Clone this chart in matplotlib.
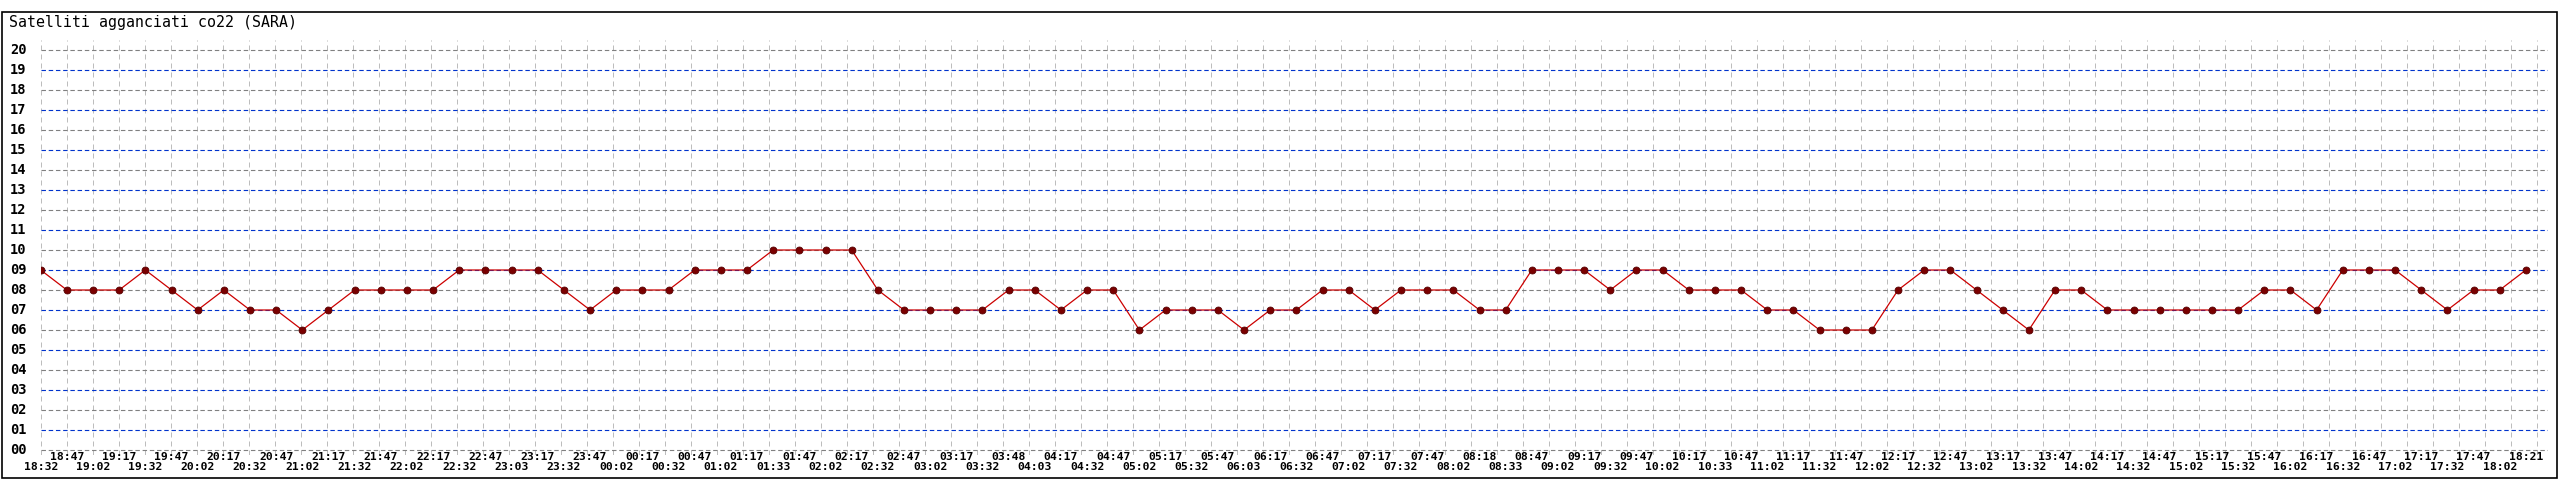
import numpy as np
import matplotlib
matplotlib.use("Agg")
import matplotlib.pyplot as plt
from matplotlib.transforms import blended_transform_factory
from matplotlib.patches import Rectangle

# dati
satelliti = [9, 8, 8, 8, 9, 8, 7, 8, 7, 7, 6, 7, 8, 8, 8, 8, 9, 9,
             9, 9, 8, 7, 8, 8, 8, 9, 9, 9, 10, 10, 10, 10, 8, 7, 7, 7, 7, 8,
             8, 7, 8, 8, 6, 7, 7, 7, 6, 7, 7, 8, 8, 7, 8, 8, 8, 7, 7,
             9, 9, 9, 8, 9, 9, 8, 8, 8, 7, 7, 6, 6, 6, 8, 9, 9, 8, 7, 6,
             8, 8, 7, 7, 7, 7, 7, 7, 8, 8, 7, 9, 9, 9, 8, 7, 8, 8, 9]

orari = ["18:32", "18:47", "19:02", "19:17", "19:32", "19:47", "20:02", "20:17",
         "20:32", "20:47", "21:02", "21:17", "21:32", "21:47", "22:02", "22:17",
         "22:32", "22:47", "23:03", "23:17", "23:32", "23:47", "00:02", "00:17",
         "00:32", "00:47", "01:02", "01:17", "01:33", "01:47", "02:02", "02:17",
         "02:32", "02:47", "03:02", "03:17", "03:32", "03:48", "04:03", "04:17",
         "04:32", "04:47", "05:02", "05:17", "05:32", "05:47", "06:03", "06:17",
         "06:32", "06:47", "07:02", "07:17", "07:32", "07:47", "08:02", "08:18",
         "08:33", "08:47", "09:02", "09:17", "09:32", "09:47", "10:02", "10:17",
         "10:33", "10:47", "11:02", "11:17", "11:32", "11:47", "12:02", "12:17",
         "12:32", "12:47", "13:02", "13:17", "13:32", "13:47", "14:02", "14:17",
         "14:32", "14:47", "15:02", "15:17", "15:32", "15:47", "16:02", "16:17",
         "16:32", "16:47", "17:02", "17:17", "17:32", "17:47", "18:02", "18:21"]

livelli = list(range(0, 21))
titolo = "Satelliti agganciati co22 (SARA)"

W, H = 2560, 480
MONO = "DejaVu Sans Mono"

fig = plt.figure(figsize=(W / 100, H / 100), dpi=100)
fig.patch.set_facecolor("white")

# area del grafico in pixel
x0, x1 = 40.7, 2548
y_top, y_bot = 40, 455
ax = fig.add_axes([x0 / W, 1 - y_bot / H, (x1 - x0) / W, (y_bot - y_top) / H])

passo_punti = 26.16
passo_griglia = 26.0
ax.set_xlim(0, (x1 - x0) / passo_punti)
ax.set_ylim(-0.25, 20.5)
ax.set_xticks([])
ax.set_yticks([])
for s in ax.spines.values():
    s.set_visible(False)

# griglia verticale (passo leggermente diverso dai punti)
n_vert = int((x1 - x0) / passo_griglia) + 1
xv = np.arange(n_vert) * passo_griglia / passo_punti
ax.vlines(xv, -0.25, 20.5, colors="#bdbdbd", linewidth=0.72,
          linestyles=(0, (5, 4)), zorder=1)

# griglia orizzontale: pari grigio, dispari blu
for v in livelli:
    col = "#808080" if v % 2 == 0 else "#0033cc"
    ax.axhline(v, color=col, linewidth=0.8, linestyle=(0, (4, 2.5)), zorder=2)

x = np.arange(len(satelliti))
ax.plot(x, satelliti, color="#cc0000", linewidth=0.9, zorder=3)
ax.plot(x, satelliti, linestyle="none", marker="o", markersize=5,
        markerfacecolor="#7a0000", markeredgecolor="#550000",
        markeredgewidth=0.6, zorder=4)

# etichette asse y
ty = blended_transform_factory(fig.transFigure, ax.transData)
for v in livelli:
    ax.text(10 / W, v, "%02d" % v, transform=ty, ha="left", va="center",
            family=MONO, fontsize=9.8, fontweight="bold", color="black")

# etichette orarie su due righe alternate
tx = blended_transform_factory(ax.transData, fig.transFigure)
for i, t in enumerate(orari):
    ypix = 457.5 if i % 2 == 1 else 467.5
    ax.text(i, 1 - ypix / H, t, transform=tx, ha="center", va="center",
            family=MONO, fontsize=8.2, fontweight="bold", color="black",
            clip_on=False)

fig.text(9 / W, 1 - 23 / H, titolo, ha="left", va="center",
         family=MONO, fontsize=10.7, color="black")

# cornice esterna
fig.patches.append(Rectangle((2 / W, 2 / H), 2555 / W, (478 - 11 - 1) / H,
                             transform=fig.transFigure, fill=False,
                             edgecolor="black", linewidth=1.2))

fig.savefig("out.png", dpi=100, facecolor="white")
